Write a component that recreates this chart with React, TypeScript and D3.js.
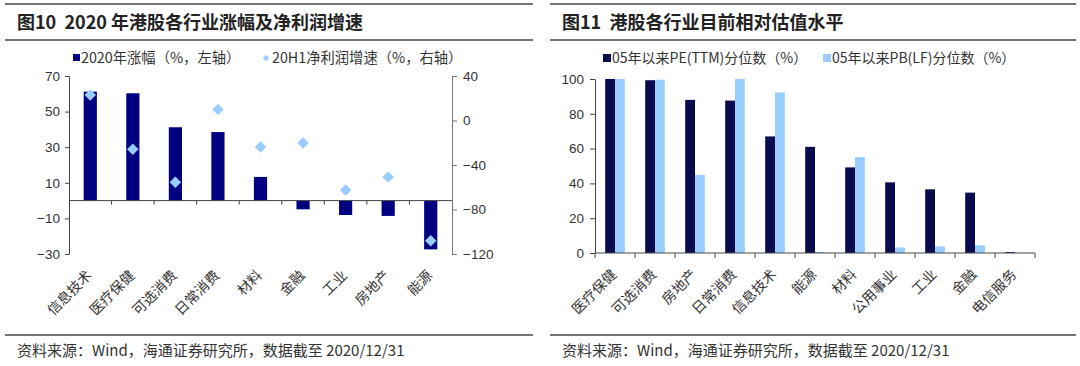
import { useEffect, useRef } from "react";
import * as d3 from "d3";

// 图10 data
const leftCats = ["信息技术", "医疗保健", "可选消费", "日常消费", "材料", "金融", "工业", "房地产", "能源"];
const gain2020 = [61.2, 60.3, 41.2, 38.5, 13.3, -4.9, -8.1, -8.6, -27.4];
const profitH1 = [22.9, -25.9, -55.6, 10, -23.8, -20.2, -62.5, -50.8, -108];
const leftTicks = [70, 50, 30, 10, -10, -30];
const rightTicks = [40, 0, -40, -80, -120];

// 图11 data
const valCats = ["医疗保健", "可选消费", "房地产", "日常消费", "信息技术", "能源", "材料", "公用事业", "工业", "金融", "电信服务"];
const pePct = [100, 99.3, 88, 87.6, 67, 61, 49.2, 40.6, 36.6, 34.7, 0.5];
const pbPct = [100, 99.6, 44.9, 100, 92.3, 0.6, 55.1, 3.2, 3.8, 4.4, 0];
const valTicks = [0, 20, 40, 60, 80, 100];

const NAVY = "#000080";
const DARK = "#0b0b4f";
const LIGHT = "#99ccff";
const SANS = "'Liberation Sans', Arial, 'Noto Sans CJK SC', sans-serif";
const CJK = "'Noto Sans CJK SC', sans-serif";

const App = () => {
  const svgRef = useRef<SVGSVGElement>(null);

  useEffect(() => {
    const svg = d3.select(svgRef.current);
    svg.selectAll("*").remove();

    // frame: rules, titles, footers
    const panels = [
      { x0: 5, x1: 533, tx: 17, title: "图10  2020 年港股各行业涨幅及净利润增速" },
      { x0: 550, x1: 1076, tx: 562, title: "图11  港股各行业目前相对估值水平" },
    ];
    panels.forEach((p) => {
      [4, 40, 335].forEach((y) => {
        svg.append("line")
          .attr("x1", p.x0).attr("x2", p.x1)
          .attr("y1", y).attr("y2", y)
          .attr("stroke", "#444").attr("stroke-width", 1.3);
      });
      svg.append("text")
        .attr("x", p.tx).attr("y", 29)
        .style("white-space", "pre")
        .style("font-family", CJK).style("font-weight", "bold")
        .style("font-size", "18px").attr("fill", "#222")
        .text(p.title);
      svg.append("text")
        .attr("x", p.tx).attr("y", 356)
        .style("font-family", CJK).style("font-size", "15px")
        .attr("fill", "#333")
        .text("资料来源：Wind，海通证券研究所，数据截至 2020/12/31");
    });

    const styleAxis = (g, color) => {
      g.select(".domain").attr("stroke", color);
      g.selectAll(".tick line").attr("stroke", color);
      g.selectAll(".tick text")
        .style("font-family", SANS).style("font-size", "13.5px").attr("fill", "#333");
    };

    // ---------- 图10 ----------
    const x1 = d3.scaleBand().domain(leftCats).range([69, 452]).padding(0);
    const yL = d3.scaleLinear().domain([-30, 70]).range([254, 76]);
    const yR = d3.scaleLinear().domain([-120, 40]).range([254, 76]);
    const g1 = svg.append("g");

    const bw1 = x1.bandwidth() * 0.31;
    g1.selectAll(".bar")
      .data(leftCats)
      .enter()
      .append("rect")
      .attr("x", (d) => x1(d) + x1.bandwidth() / 2 - bw1 / 2)
      .attr("width", bw1)
      .attr("y", (d, i) => yL(Math.max(0, gain2020[i])))
      .attr("height", (d, i) => Math.abs(yL(gain2020[i]) - yL(0)))
      .attr("fill", NAVY);

    // zero baseline with category ticks
    const y0 = yL(0);
    g1.append("line")
      .attr("x1", 69).attr("x2", 452).attr("y1", y0).attr("y2", y0)
      .attr("stroke", "#444");
    g1.selectAll(".xtick")
      .data(leftCats.slice(1))
      .enter()
      .append("line")
      .attr("x1", (d) => x1(d)).attr("x2", (d) => x1(d))
      .attr("y1", y0).attr("y2", y0 + 4)
      .attr("stroke", "#444");

    g1.selectAll(".dia")
      .data(leftCats)
      .enter()
      .append("path")
      .attr("d", d3.symbol(d3.symbolSquare, 66)())
      .attr("transform", (d, i) =>
        `translate(${x1(d) + x1.bandwidth() / 2},${yR(profitH1[i])}) rotate(45)`)
      .attr("fill", LIGHT);

    const aL = g1.append("g")
      .attr("transform", "translate(69,0)")
      .call(d3.axisLeft(yL).tickValues(leftTicks).tickSize(4).tickSizeOuter(0).tickPadding(5));
    styleAxis(aL, "#444");

    const aR = g1.append("g")
      .attr("transform", "translate(452,0)")
      .call(d3.axisRight(yR).tickValues(rightTicks).tickSize(5).tickSizeOuter(0).tickPadding(6));
    styleAxis(aR, "#777");

    g1.selectAll(".xl")
      .data(leftCats)
      .enter()
      .append("text")
      .attr("transform", (d) => `translate(${x1(d) + x1.bandwidth() / 2 - 1},${273}) rotate(-45)`)
      .attr("text-anchor", "end")
      .attr("dy", "0.35em")
      .style("font-family", CJK).style("font-size", "14px").attr("fill", "#333")
      .text((d) => d);

    // legend
    const lg1 = svg.append("g").style("font-family", CJK).style("font-size", "14.3px");
    lg1.append("rect").attr("x", 73).attr("y", 54).attr("width", 7).attr("height", 7).attr("fill", NAVY);
    lg1.append("text").attr("x", 81).attr("y", 63).attr("fill", "#333").text("2020年涨幅（%，左轴）");
    lg1.append("path")
      .attr("d", d3.symbol(d3.symbolSquare, 22)())
      .attr("transform", "translate(266,58) rotate(45)")
      .attr("fill", LIGHT);
    lg1.append("text").attr("x", 272).attr("y", 63).attr("fill", "#333").text("20H1净利润增速（%，右轴）");

    // ---------- 图11 ----------
    const x2 = d3.scaleBand().domain(valCats).range([595, 1035]).padding(0);
    const y2 = d3.scaleLinear().domain([0, 100]).range([253, 79]);
    const g2 = svg.append("g");
    const bw2 = x2.bandwidth() * 0.245;

    g2.selectAll(".pe")
      .data(valCats)
      .enter()
      .append("rect")
      .attr("x", (d) => x2(d) + x2.bandwidth() / 2 - bw2)
      .attr("width", bw2)
      .attr("y", (d, i) => y2(pePct[i]))
      .attr("height", (d, i) => y2(0) - y2(pePct[i]))
      .attr("fill", DARK);

    g2.selectAll(".pb")
      .data(valCats)
      .enter()
      .append("rect")
      .attr("x", (d) => x2(d) + x2.bandwidth() / 2)
      .attr("width", bw2)
      .attr("y", (d, i) => y2(pbPct[i]))
      .attr("height", (d, i) => y2(0) - y2(pbPct[i]))
      .attr("fill", LIGHT);

    const aY2 = g2.append("g")
      .attr("transform", "translate(595,0)")
      .call(d3.axisLeft(y2).tickValues(valTicks).tickSize(5).tickSizeOuter(0).tickPadding(6));
    styleAxis(aY2, "#444");

    const yb = y2(0);
    g2.append("line")
      .attr("x1", 595).attr("x2", 1035).attr("y1", yb).attr("y2", yb)
      .attr("stroke", "#444");
    g2.selectAll(".xtick")
      .data(d3.range(valCats.length + 1))
      .enter()
      .append("line")
      .attr("x1", (i) => 595 + i * x2.bandwidth()).attr("x2", (i) => 595 + i * x2.bandwidth())
      .attr("y1", yb).attr("y2", yb + 5)
      .attr("stroke", "#444");

    g2.selectAll(".xl")
      .data(valCats)
      .enter()
      .append("text")
      .attr("transform", (d) => `translate(${x2(d) + x2.bandwidth() / 2 - 1},${272}) rotate(-45)`)
      .attr("text-anchor", "end")
      .attr("dy", "0.35em")
      .style("font-family", CJK).style("font-size", "14px").attr("fill", "#333")
      .text((d) => d);

    const lg2 = svg.append("g").style("font-family", CJK).style("font-size", "14px");
    lg2.append("rect").attr("x", 603).attr("y", 54).attr("width", 8).attr("height", 8).attr("fill", DARK);
    lg2.append("text").attr("x", 612).attr("y", 63).attr("fill", "#333").text("05年以来PE(TTM)分位数（%）");
    lg2.append("rect").attr("x", 823).attr("y", 54).attr("width", 8).attr("height", 8).attr("fill", LIGHT);
    lg2.append("text").attr("x", 832).attr("y", 63).attr("fill", "#333").text("05年以来PB(LF)分位数（%）");
  }, []);

  return (
    <svg
      ref={svgRef}
      width={1080}
      height={366}
      style={{ position: "absolute", left: 0, top: 0, background: "#fff" }}
    ></svg>
  );
};

export default App;
